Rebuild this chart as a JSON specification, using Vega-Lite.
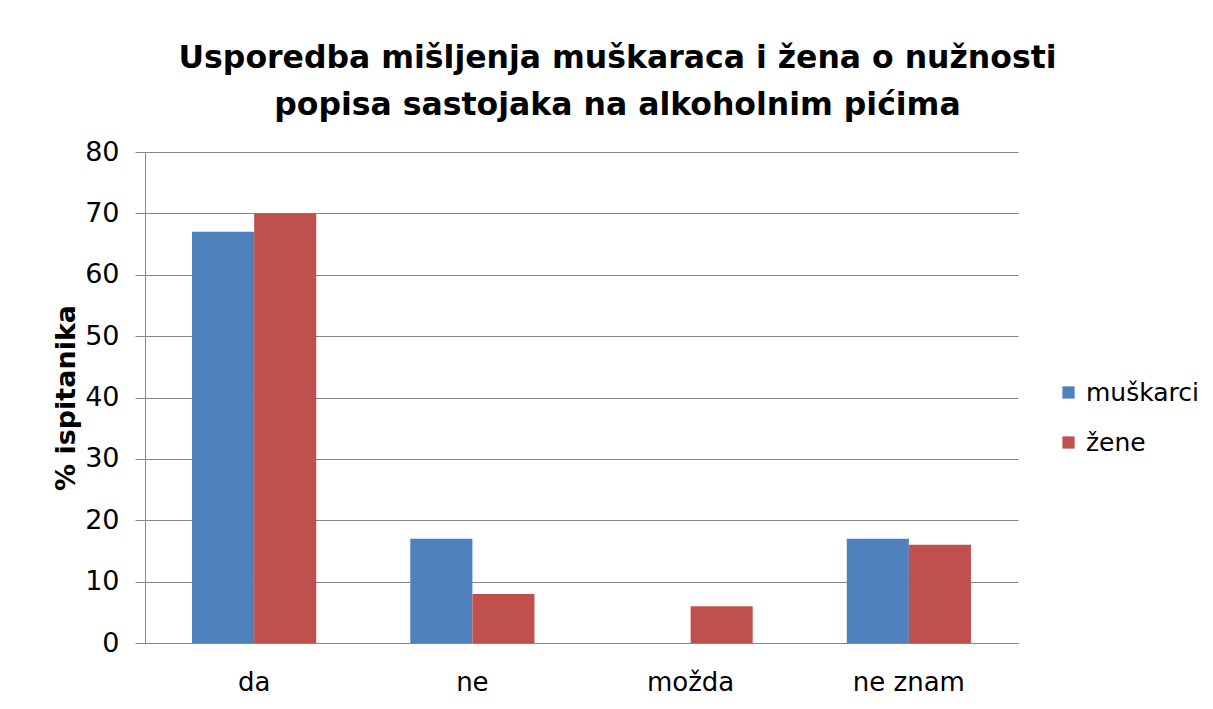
{
  "$schema": "https://vega.github.io/schema/vega-lite/v6.json",
  "width": 873,
  "height": 491,
  "autosize": {"type": "none"},
  "padding": {"left": 145, "top": 152, "right": 195, "bottom": 66},
  "background": "white",
  "title": {
    "text": ["Usporedba mišljenja muškaraca i žena o nužnosti", "popisa sastojaka na alkoholnim pićima"],
    "font": "DejaVu Sans",
    "fontSize": 31.5,
    "fontWeight": "bold",
    "color": "black",
    "anchor": "middle",
    "dx": 36,
    "lineHeight": 47,
    "offset": 17
  },
  "data": {
    "values": [
      {"odgovor": "da", "spol": "muškarci", "postotak": 67},
      {"odgovor": "da", "spol": "žene", "postotak": 70},
      {"odgovor": "ne", "spol": "muškarci", "postotak": 17},
      {"odgovor": "ne", "spol": "žene", "postotak": 8},
      {"odgovor": "možda", "spol": "muškarci", "postotak": 0},
      {"odgovor": "možda", "spol": "žene", "postotak": 6},
      {"odgovor": "ne znam", "spol": "muškarci", "postotak": 17},
      {"odgovor": "ne znam", "spol": "žene", "postotak": 16}
    ]
  },
  "mark": {"type": "bar"},
  "encoding": {
    "x": {
      "field": "odgovor",
      "type": "nominal",
      "sort": ["da", "ne", "možda", "ne znam"],
      "scale": {"paddingInner": 0.431, "paddingOuter": 0.2155},
      "axis": {
        "title": null,
        "labelAngle": 0,
        "ticks": false,
        "labelPadding": 26,
        "labelFontSize": 26,
        "labelFont": "DejaVu Sans",
        "labelColor": "black",
        "domainColor": "#868686",
        "grid": false
      }
    },
    "xOffset": {"field": "spol", "type": "nominal", "sort": ["muškarci", "žene"], "scale": {"paddingInner": 0, "paddingOuter": 0}},
    "y": {
      "field": "postotak",
      "type": "quantitative",
      "scale": {"domain": [0, 80], "nice": false},
      "axis": {
        "title": "% ispitanika",
        "titleFont": "DejaVu Sans",
        "titleFontSize": 27,
        "titleFontWeight": "bold",
        "titleColor": "black",
        "titlePadding": 4,
        "values": [0, 10, 20, 30, 40, 50, 60, 70, 80],
        "labelFontSize": 27,
        "labelFont": "DejaVu Sans",
        "labelColor": "black",
        "labelPadding": 16,
        "tickSize": 10,
        "tickColor": "#868686",
        "domainColor": "#868686",
        "gridColor": "#868686",
        "gridOpacity": 1
      }
    },
    "color": {
      "field": "spol",
      "type": "nominal",
      "sort": ["muškarci", "žene"],
      "scale": {"domain": ["muškarci", "žene"], "range": ["#4F81BD", "#C0504D"]},
      "legend": {
        "title": null,
        "orient": "none",
        "legendX": 911,
        "legendY": 228,
        "symbolType": "square",
        "symbolSize": 150,
        "symbolStrokeWidth": 0,
        "labelFontSize": 25,
        "labelFont": "DejaVu Sans",
        "labelColor": "black",
        "labelOffset": 5,
        "rowPadding": 24
      }
    }
  },
  "config": {
    "view": {"stroke": null}
  }
}
